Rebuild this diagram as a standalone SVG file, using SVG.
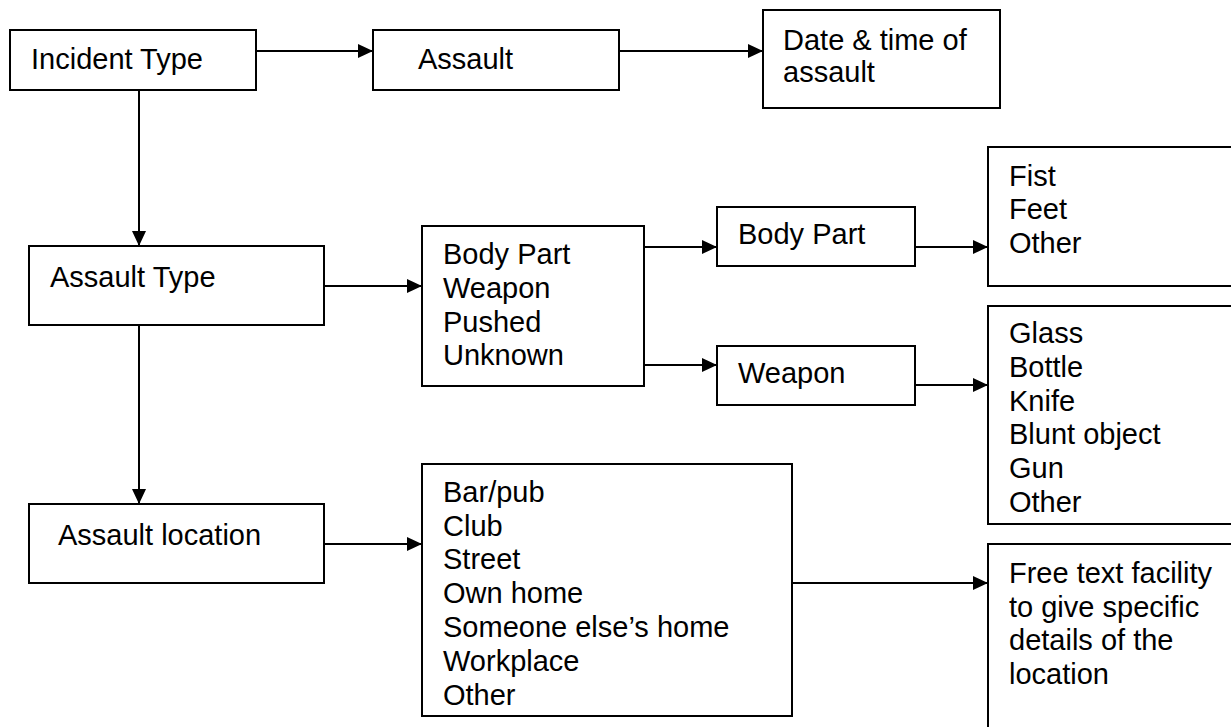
<svg xmlns="http://www.w3.org/2000/svg" width="1231" height="727" viewBox="0 0 1231 727">
<style>
.box{fill:#fff;stroke:#000;stroke-width:2}
.t{font-family:"Liberation Sans",Arial,sans-serif;font-size:29px;fill:#000}
.c{stroke:#000;stroke-width:2;fill:none;marker-end:url(#ah)}
</style>
<defs>
<marker id="ah" markerUnits="userSpaceOnUse" markerWidth="15" markerHeight="14" refX="15" refY="7" orient="auto">
<path d="M0,0 L15,7 L0,14 z" fill="#000"/>
</marker>
</defs>
<rect width="1231" height="727" fill="#fff"/>
<g id="connectors">
<line class="c" x1="256" y1="51" x2="373" y2="51"/>
<line class="c" x1="619" y1="51" x2="763" y2="51"/>
<line class="c" x1="139" y1="90" x2="139" y2="246"/>
<line class="c" x1="139" y1="325" x2="139" y2="504"/>
<line class="c" x1="324" y1="286" x2="422" y2="286"/>
<line class="c" x1="644" y1="247" x2="717" y2="247"/>
<line class="c" x1="644" y1="365" x2="717" y2="365"/>
<line class="c" x1="915" y1="247" x2="988" y2="247"/>
<line class="c" x1="915" y1="385" x2="988" y2="385"/>
<line class="c" x1="324" y1="544" x2="422" y2="544"/>
<line class="c" x1="792" y1="583" x2="988" y2="583"/>
</g>
<g id="incident-type">
<rect class="box" x="10" y="30" width="246" height="60"/>
<text class="t" x="31" y="69">Incident Type</text>
</g>
<g id="assault">
<rect class="box" x="373" y="30" width="246" height="60"/>
<text class="t" x="418" y="69">Assault</text>
</g>
<g id="date-time">
<rect class="box" x="763" y="10" width="237" height="98"/>
<text class="t" x="783" y="50">Date &amp; time of</text>
<text class="t" x="783" y="82">assault</text>
</g>
<g id="assault-type">
<rect class="box" x="29" y="246" width="295" height="79"/>
<text class="t" x="50" y="287">Assault Type</text>
</g>
<g id="type-list">
<rect class="box" x="422" y="226" width="222" height="160"/>
<text class="t" x="443" y="264">Body Part</text>
<text class="t" x="443" y="298">Weapon</text>
<text class="t" x="443" y="332">Pushed</text>
<text class="t" x="443" y="365">Unknown</text>
</g>
<g id="body-part">
<rect class="box" x="717" y="207" width="198" height="59"/>
<text class="t" x="738" y="244">Body Part</text>
</g>
<g id="weapon">
<rect class="box" x="717" y="346" width="198" height="59"/>
<text class="t" x="738" y="383">Weapon</text>
</g>
<g id="body-part-list">
<rect class="box" x="988" y="147" width="260" height="139"/>
<text class="t" x="1009" y="186">Fist</text>
<text class="t" x="1009" y="219">Feet</text>
<text class="t" x="1009" y="253">Other</text>
</g>
<g id="weapon-list">
<rect class="box" x="988" y="306" width="260" height="218"/>
<text class="t" x="1009" y="343">Glass</text>
<text class="t" x="1009" y="377">Bottle</text>
<text class="t" x="1009" y="411">Knife</text>
<text class="t" x="1009" y="444">Blunt object</text>
<text class="t" x="1009" y="478">Gun</text>
<text class="t" x="1009" y="512">Other</text>
</g>
<g id="assault-location">
<rect class="box" x="29" y="504" width="295" height="79"/>
<text class="t" x="58" y="545">Assault location</text>
</g>
<g id="location-list">
<rect class="box" x="422" y="464" width="370" height="252"/>
<text class="t" x="443" y="502">Bar/pub</text>
<text class="t" x="443" y="536">Club</text>
<text class="t" x="443" y="569">Street</text>
<text class="t" x="443" y="603">Own home</text>
<text class="t" x="443" y="637">Someone else’s home</text>
<text class="t" x="443" y="671">Workplace</text>
<text class="t" x="443" y="705">Other</text>
</g>
<g id="free-text">
<rect class="box" x="988" y="544" width="260" height="200"/>
<text class="t" x="1009" y="583">Free text facility</text>
<text class="t" x="1009" y="617">to give specific</text>
<text class="t" x="1009" y="650">details of the</text>
<text class="t" x="1009" y="684">location</text>
</g>
</svg>
